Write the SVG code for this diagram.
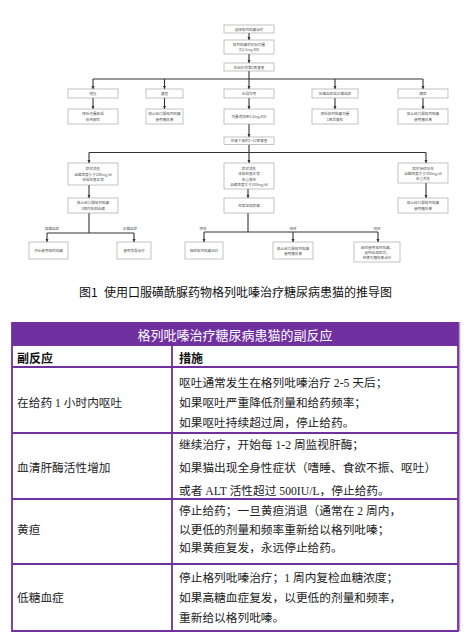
<svg xmlns="http://www.w3.org/2000/svg" width="470" height="638" viewBox="0 0 470 638">
<defs>
<marker id="ah" viewBox="0 0 6 6" refX="6" refY="3" markerWidth="3.2" markerHeight="3.2" markerUnits="userSpaceOnUse" orient="auto">
<path d="M0,0 L6,3 L0,6 z" fill="#333"/>
</marker>
<style>
.box{fill:#fff;stroke:#9a9a9a;stroke-width:0.6}
.ft{font-family:"Noto Sans CJK SC","Liberation Sans",sans-serif;font-size:3.6px;fill:#555;text-anchor:middle;dominant-baseline:central}
.cn line,.cn path{stroke:#333;stroke-width:1.1;fill:none}
.ar{marker-end:url(#ah)}
.cap{font-family:"Noto Sans CJK SC","Liberation Sans",sans-serif;font-size:12px;fill:#111}
.tb{font-family:"Liberation Serif","Noto Sans CJK SC",serif;font-size:11.7px;fill:#222}
.th{font-family:"Liberation Serif","Noto Sans CJK SC",serif;font-size:12px;font-weight:bold;fill:#111}
.tl{stroke:#7030a0;stroke-width:1.8;fill:none}
</style>
</defs>
<rect width="470" height="638" fill="#fff"/>

<g class="cn" id="connectors">
<line class="ar" x1="249" y1="33" x2="249" y2="40"/>
<line class="ar" x1="249" y1="54" x2="249" y2="63"/>
<path d="M249,71 V79 M93,79 H423"/>
<line class="ar" x1="93" y1="79" x2="93" y2="89"/>
<line class="ar" x1="164.5" y1="79" x2="164.5" y2="89"/>
<line class="ar" x1="249" y1="79" x2="249" y2="89"/>
<line class="ar" x1="335" y1="79" x2="335" y2="89"/>
<line class="ar" x1="423" y1="79" x2="423" y2="89"/>
<line class="ar" x1="93" y1="98" x2="93" y2="109"/>
<line class="ar" x1="164.5" y1="98" x2="164.5" y2="109"/>
<line class="ar" x1="249" y1="98" x2="249" y2="109"/>
<line class="ar" x1="335" y1="98" x2="335" y2="109"/>
<line class="ar" x1="423" y1="98" x2="423" y2="109"/>
<line class="ar" x1="249" y1="124" x2="249" y2="137"/>
<path d="M249,144.5 V152.5 M89,152.5 H426"/>
<line class="ar" x1="89" y1="152.5" x2="89" y2="163"/>
<line class="ar" x1="249" y1="152.5" x2="249" y2="163"/>
<line class="ar" x1="426" y1="152.5" x2="426" y2="163"/>
<line class="ar" x1="89" y1="185" x2="89" y2="198"/>
<line class="ar" x1="248" y1="189" x2="248" y2="198"/>
<line class="ar" x1="426" y1="183" x2="426" y2="198"/>
<path d="M89,213 V233 M47,233 H134"/>
<line class="ar" x1="47" y1="233" x2="47" y2="242"/>
<line class="ar" x1="134" y1="233" x2="134" y2="242"/>
<path d="M248,213 V232 M204,232 H378"/>
<line class="ar" x1="204" y1="232" x2="204" y2="242"/>
<line class="ar" x1="293" y1="232" x2="293" y2="242"/>
<line class="ar" x1="378" y1="232" x2="378" y2="242"/>
<text class="ft" x="52" y="228">高糖血症</text>
<text class="ft" x="130" y="228">正糖血症</text>
<text class="ft" x="203" y="228">阴性</text>
<text class="ft" x="293" y="228">阳性</text>
<text class="ft" x="377" y="228">阳性</text>
</g>

<g id="n1"><rect class="box" x="224" y="25" width="50" height="8"/><text class="ft" x="249" y="29">选择格列吡嗪治疗</text></g>
<g id="n2"><rect class="box" x="224" y="40" width="50" height="14"/><text class="ft" x="249" y="44.5">格列吡嗪的初始剂量</text><text class="ft" x="249" y="49.5">为2.5mg BID</text></g>
<g id="n3"><rect class="box" x="224" y="63" width="50" height="8"/><text class="ft" x="249" y="67">在治疗的第2周复查</text></g>

<g id="r1a"><rect class="box" x="68" y="89" width="50" height="9"/><text class="ft" x="93" y="93.5">呕吐</text></g>
<g id="r1b"><rect class="box" x="146" y="89" width="37" height="9"/><text class="ft" x="164.5" y="93.5">黄疸</text></g>
<g id="r1c"><rect class="box" x="224" y="89" width="50" height="9"/><text class="ft" x="249" y="93.5">无副作用</text></g>
<g id="r1d"><rect class="box" x="312" y="89" width="46" height="9"/><text class="ft" x="335" y="93.5">低糖血症或正糖血症</text></g>
<g id="r1e"><rect class="box" x="398" y="89" width="50" height="9"/><text class="ft" x="423" y="93.5">酮症</text></g>

<g id="r2a"><rect class="box" x="68" y="109" width="50" height="15"/><text class="ft" x="93" y="113.8">降低剂量和或</text><text class="ft" x="93" y="119">给药频率</text></g>
<g id="r2b"><rect class="box" x="146" y="109" width="37" height="15"/><text class="ft" x="164.5" y="113.8">停止给口服格列吡嗪</text><text class="ft" x="164.5" y="119">使用胰岛素</text></g>
<g id="r2c"><rect class="box" x="224" y="109" width="50" height="15"/><text class="ft" x="249" y="116.5">剂量增加至5.0mg BID</text></g>
<g id="r2d"><rect class="box" x="312" y="109" width="46" height="15"/><text class="ft" x="335" y="113.8">降低格列吡嗪剂量</text><text class="ft" x="335" y="119">1周后复检</text></g>
<g id="r2e"><rect class="box" x="398" y="109" width="50" height="15"/><text class="ft" x="423" y="113.8">停止给口服格列吡嗪</text><text class="ft" x="423" y="119">使用胰岛素</text></g>

<g id="n4"><rect class="box" x="224" y="137" width="50" height="7.5"/><text class="ft" x="249" y="140.8">在接下来的2~12周复查</text></g>

<g id="r3a"><rect class="box" x="68" y="163" width="50" height="22"/><text class="ft" x="93" y="168.5">症状消失</text><text class="ft" x="93" y="174">血糖浓度小于200mg/dl</text><text class="ft" x="93" y="179.5">体格检查正常</text></g>
<g id="r3b"><rect class="box" x="224" y="163" width="50" height="26"/><text class="ft" x="249" y="168">症状消失</text><text class="ft" x="249" y="173.5">体格检查正常</text><text class="ft" x="249" y="179">体重稳定</text><text class="ft" x="249" y="184.5">血糖浓度大于200mg/dl</text></g>
<g id="r3c"><rect class="box" x="398" y="163" width="50" height="20"/><text class="ft" x="423" y="168">症状持续存在</text><text class="ft" x="423" y="173">血糖浓度大于300mg/dl</text><text class="ft" x="423" y="178">体重丢失</text></g>

<g id="r4a"><rect class="box" x="68" y="198" width="50" height="15"/><text class="ft" x="93" y="202.8">停止给口服格列吡嗪</text><text class="ft" x="93" y="208">1周内检测血糖</text></g>
<g id="r4b"><rect class="box" x="224" y="198" width="50" height="15"/><text class="ft" x="249" y="205.5">在家监视尿糖</text></g>
<g id="r4c"><rect class="box" x="398" y="198" width="50" height="15"/><text class="ft" x="423" y="202.8">停止给口服格列吡嗪</text><text class="ft" x="423" y="208">使用胰岛素</text></g>

<g id="r5a"><rect class="box" x="29" y="242" width="39" height="17"/><text class="ft" x="48.5" y="250.5">开始使用格列吡嗪</text></g>
<g id="r5b"><rect class="box" x="117" y="242" width="34" height="17"/><text class="ft" x="134" y="250.5">使用饮食治疗</text></g>
<g id="r5c"><rect class="box" x="185" y="242" width="38" height="17"/><text class="ft" x="204" y="250.5">继续格列吡嗪治疗</text></g>
<g id="r5d"><rect class="box" x="273" y="242" width="40" height="17"/><text class="ft" x="293" y="248">停止给口服格列吡嗪</text><text class="ft" x="293" y="253.2">使用胰岛素</text></g>
<g id="r5e"><rect class="box" x="354" y="242" width="46" height="20"/><text class="ft" x="377" y="247">继续使用格列吡嗪，</text><text class="ft" x="377" y="252">直到出现症状，</text><text class="ft" x="377" y="257">转换为胰岛素治疗</text></g>

<g id="caption">
<text class="cap" x="79" y="297">图1</text>
<text class="cap" x="104" y="297">使用口服磺酰脲药物格列吡嗪治疗糖尿病患猫的推导图</text>
</g>

<g id="table">
<rect x="12" y="322" width="446" height="309" fill="#fff"/>
<rect x="12" y="322" width="446" height="24" fill="#7030a0"/>
<text x="235" y="339.5" text-anchor="middle" font-family="Liberation Serif,Noto Sans CJK SC,serif" font-size="13" fill="#fff">格列吡嗪治疗糖尿病患猫的副反应</text>
<line x1="459.5" y1="322" x2="459.5" y2="631" stroke="#b896d6" stroke-width="1.5"/>
<path class="tl" d="M12,322 V631 H458 V322 M12,367 H458 M12,433 H458 M12,499 H458 M12,564 H458 M172,346 V631"/>
<text class="th" x="17" y="362.5">副反应</text>
<text class="th" x="179" y="362.5">措施</text>

<text class="tb" x="17" y="407.3">在给药 1 小时内呕吐</text>
<text class="tb" x="179" y="387.3">呕吐通常发生在格列吡嗪治疗 2-5 天后；</text>
<text class="tb" x="179" y="407.3">如果呕吐严重降低剂量和给药频率；</text>
<text class="tb" x="179" y="427.3">如果呕吐持续超过周，停止给药。</text>

<text class="tb" x="17" y="472.3">血清肝酶活性增加</text>
<text class="tb" x="179" y="449.3">继续治疗，开始每 1-2 周监视肝酶；</text>
<text class="tb" x="179" y="472.3">如果猫出现全身性症状（嗜睡、食欲不振、呕吐）</text>
<text class="tb" x="179" y="495.3">或者 ALT 活性超过 500IU/L，停止给药。</text>

<text class="tb" x="17" y="534.3">黄疸</text>
<text class="tb" x="179" y="515.3">停止给药；一旦黄疸消退（通常在 2 周内，</text>
<text class="tb" x="179" y="534.3">以更低的剂量和频率重新给以格列吡嗪；</text>
<text class="tb" x="179" y="552.3">如果黄疸复发，永远停止给药。</text>

<text class="tb" x="17" y="602.3">低糖血症</text>
<text class="tb" x="179" y="582.3">停止格列吡嗪治疗；1 周内复检血糖浓度；</text>
<text class="tb" x="179" y="602.3">如果高糖血症复发，以更低的剂量和频率，</text>
<text class="tb" x="179" y="622.3">重新给以格列吡嗪。</text>
</g>
</svg>
